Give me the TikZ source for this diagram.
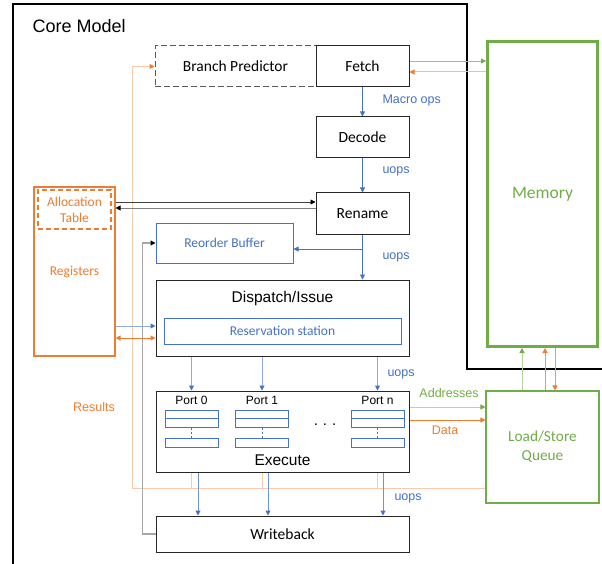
\documentclass[tikz,border=0pt]{standalone}
\usepackage{fontspec}
\setmainfont{Liberation Sans}
\newfontfamily\calfont{Carlito}
\usetikzlibrary{arrows.meta}
\definecolor{cblue}{HTML}{4472C4}
\definecolor{corange}{HTML}{ED7D31}
\definecolor{cgreen}{HTML}{70AD47}
\definecolor{lorange}{HTML}{F8CBAD}
\definecolor{lgreen}{HTML}{B4D69C}
\definecolor{lblue}{HTML}{8FAADC}
\definecolor{tanline}{HTML}{D9C3B5}
\definecolor{cgray}{HTML}{A6A6A6}
\definecolor{boxline}{HTML}{262626}
\begin{document}
\begin{tikzpicture}[x=1pt,y=-1pt,
  tip/.style={-{Triangle[length=5pt,width=5pt,color=#1]}},
  blk/.style={draw=boxline, line width=1pt, inner sep=0pt, font=\calfont\fontsize{15.5}{18}\selectfont},
  hel/.style={font=\fontsize{15.5}{18}\selectfont},
  small/.style={font=\fontsize{12.5}{15}\selectfont},
  port/.style={draw=cblue, line width=1pt, inner sep=0pt},
  bl/.style={font=\calfont\fontsize{13.5}{16}\selectfont, text=cblue},
  or/.style={font=\calfont\fontsize{13.5}{16}\selectfont, text=corange, align=center},
]
\useasboundingbox (0,0) rectangle (602,564);
\clip (0,0) rectangle (602,564);
\fill[white] (0,0) rectangle (602,564);

% core model outline
\draw[line width=2.5pt] (13,580) -- (13,4) -- (467,4) -- (467,369) -- (620,369);
\node[anchor=west, font=\fontsize{18}{20}\selectfont] (core) at (29,26) {Core Model};

% pipeline boxes
\node[blk, draw=black!65, dash pattern=on 6pt off 3pt, minimum width=161pt, minimum height=41pt] (bp) at (235.5,66.5) {Branch Predictor};
\node[blk, minimum width=93pt, minimum height=41pt, fill=white] (fetch) at (362.5,66.5) {Fetch};
\node[blk, minimum width=93pt, minimum height=41pt] (decode) at (362.5,137.5) {Decode};
\node[blk, minimum width=93pt, minimum height=41pt] (rename) at (362.5,213.5) {Rename};
\node[draw=cblue, line width=1pt, inner sep=0pt, minimum width=137pt, minimum height=40pt, bl] (rob) at (224.5,243) {Reorder Buffer};
\node[blk, minimum width=253pt, minimum height=76pt] (dispatch) at (282.5,318) {};
\node[hel] (dlabel) at (282.5,298) {Dispatch/Issue};
\node[draw=cblue, line width=1pt, inner sep=0pt, minimum width=237pt, minimum height=26pt, bl] (rs) at (282.5,331) {Reservation station};
\node[blk, minimum width=253pt, minimum height=81pt] (execute) at (282.5,431.5) {};
\node[hel] (elabel) at (282.5,460) {Execute};
\node[blk, minimum width=253pt, minimum height=36pt] (wb) at (282.5,534) {Writeback};

% ports
\foreach \n/\x/\t in {p0/191.5/Port 0, p1/262/Port 1, pn/377.5/Port n}{
  \node[port, minimum width=53pt, minimum height=17pt] (\n a) at (\x,418.5) {};
  \draw[cblue, line width=1pt] (\n a.west) -- (\n a.east);
  \node[port, minimum width=53pt, minimum height=9pt] (\n b) at (\x,442.5) {};
  \draw[cblue, line width=0.8pt, dash pattern=on 2pt off 2pt] (\n a.south) -- (\n b.north);
  \node[font=\fontsize{12}{14}\selectfont] (\n l) at (\x,400.5) {\t};
}
\node[font=\fontsize{15}{16}\selectfont] (dots) at (325,425) {.\,\,.\,\,.};

% registers
\node[draw=corange, line width=1.1pt, minimum width=81pt, minimum height=169pt, inner sep=0pt] (regs) at (74.5,271.5) {};
\node[draw=corange, line width=1.1pt, dash pattern=on 5pt off 3pt, minimum width=73pt, minimum height=39pt, inner sep=0pt, or] (alloc) at (74.5,209.5) {Allocation\\Table};
\node[or] (reglabel) at (74.5,272) {Registers};

% memory and LSQ
\node[draw=cgreen, line width=3pt, minimum width=110pt, minimum height=305pt, inner sep=0pt, text=cgreen, font=\calfont\fontsize{17.5}{20}\selectfont] (memory) at (542.5,194) {Memory};
\node[draw=cgreen, line width=1.1pt, minimum width=113pt, minimum height=112pt, inner sep=0pt, text=cgreen, align=center, font=\calfont\fontsize{15.3}{19}\selectfont] (lsq) at (542.5,447) {Load/Store\\Queue};

% coordinates
\coordinate (m1) at (0,61);
\coordinate (m2) at (0,72);
\coordinate (ra) at (0,202);
\coordinate (rb) at (0,208);
\coordinate (rj) at (362.5,249);
\coordinate (rr1) at (0,326);
\coordinate (rr2) at (0,338);
\coordinate (ad) at (0,407);
\coordinate (da) at (0,420);
\coordinate (rc) at (132,488);
\coordinate (w0) at (198,0);
\coordinate (w1) at (268,0);
\coordinate (wn) at (383,0);
\coordinate (q1) at (522,0);
\coordinate (q2) at (545,0);
\coordinate (q3) at (555,0);

% results (orange, light)
\draw[lorange, line width=1pt, tip=corange] (lsq.west |- rc) -- (rc) |- (bp.west);
\foreach \p in {p0a,p1a,pna}{
  \draw[lorange, line width=1pt] (execute.south -| \p) -- (\p |- rc);
}
\node[small, text=corange] (results) at (94,407) {Results};

% writeback to ROB
\draw[cgray, line width=1.1pt, tip=black] (wb.west) -- ++(-13,0) |- (rob.west);

% fetch/memory
\draw[lgreen!60!cgreen, line width=0.8pt, tip=cgreen] (fetch.east |- m1) -- (memory.west |- m1);
\draw[tanline, line width=1pt, tip=corange] (memory.west |- m2) -- (fetch.east |- m2);

% pipeline arrows
\draw[cblue, line width=0.8pt, tip=cblue] (fetch) -- (decode);
\node[small, text=cblue, anchor=west] (mops) at (379,100) {Macro ops};
\draw[cblue, line width=0.8pt, tip=cblue] (decode) -- (rename);
\node[small, text=cblue, anchor=west] (u1) at (379,171) {uops};
\draw[cblue, line width=0.8pt, tip=cblue] (rename) -- (rename.south |- dispatch.north);
\draw[cblue, line width=0.8pt, tip=cblue] (rj) -- (rj -| rob.east);
\node[small, text=cblue, anchor=west] (u2) at (379,257) {uops};

% rename <-> registers
\draw[black!75, line width=0.8pt, tip=black] (regs.east |- ra) -- (rename.west |- ra);
\draw[black!50, line width=0.8pt, tip=black] (rename.west |- rb) -- (regs.east |- rb);

% registers <-> reservation station
\draw[lblue, line width=1pt, tip=cblue] (regs.east |- rr1) -- (dispatch.west |- rr1);
\draw[corange, line width=1pt, {Triangle[length=5pt,width=5pt]}-{Triangle[length=5pt,width=5pt]}] (regs.east |- rr2) -- (dispatch.west |- rr2);

% dispatch -> execute
\foreach \p in {p0a,p1a,pna}{
  \draw[lblue, line width=1pt, tip=cblue] (dispatch.south -| \p) -- (execute.north -| \p);
}
\node[small, text=cblue, anchor=west] (u3) at (384,374) {uops};

% execute -> writeback
\foreach \w in {w0,w1,wn}{
  \draw[lblue!60!cblue, line width=1pt, tip=cblue] (execute.south -| \w) -- (wb.north -| \w);
}
\node[small, text=cblue, anchor=west] (u4) at (391,498) {uops};

% execute -> LSQ
\draw[lgreen, line width=1pt, tip=cgreen] (execute.east |- ad) -- (lsq.west |- ad);
\node[small, text=cgreen] (addr) at (449,393) {Addresses};
\draw[corange, line width=0.8pt, tip=corange] (execute.east |- da) -- (lsq.west |- da);
\node[small, text=corange] (data) at (445,430) {Data};

% LSQ <-> memory
\draw[lgreen, line width=1pt, tip=cgreen] (lsq.north -| q1) -- (memory.south -| q1);
\draw[corange!80, line width=1pt, tip=corange] (lsq.north -| q2) -- (memory.south -| q2);
\draw[corange!80, line width=1pt, tip=corange] (memory.south -| q3) -- (lsq.north -| q3);
\end{tikzpicture}
\end{document}
